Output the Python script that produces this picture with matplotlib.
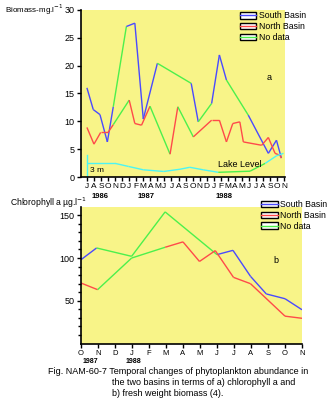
import numpy as np
import matplotlib.pyplot as plt
from matplotlib.patches import Rectangle
from matplotlib.lines import Line2D

plt.rcParams['font.family'] = ['Liberation Sans', 'DejaVu Sans']

# ---- panel a: biomass (months counted from Jul 1986) ----
months_a = ['J', 'A', 'S', 'O', 'N', 'D', 'J', 'F', 'M', 'A', 'M', 'J', 'J', 'A', 'S',
            'O', 'N', 'D', 'J', 'F', 'M', 'A', 'M', 'J', 'J', 'A', 'S', 'O', 'N']
years_a = ['1986', '1987', '1988']
years_a_pos = [1.85, 8.4, 19.5]

south_a_t = [0, 0.9, 1.85, 2.9, 3.74, 5.6, 6.8, 8.0, 10.0, 14.8, 15.8, 17.7, 18.8, 19.8,
             22.9, 25.75, 26.9, 27.6]
south_a_v = [16.0, 12.1, 11.2, 6.3, 12.6, 27.0, 27.6, 10.4, 20.4, 16.8, 9.9, 13.2, 21.9,
             17.4, 11.1, 4.25, 6.6, 3.4]
# 1 = measured segment, 0 = no data (interpolated)
south_a_ok = [1, 1, 1, 1, 0, 1, 1, 1, 0, 1, 0, 1, 1, 0, 1, 1, 1]

north_a_t = [0, 1.0, 1.95, 3.0, 3.74, 6.0, 6.8, 7.75, 8.95, 11.8, 12.9, 15.1, 17.7, 18.8,
             19.8, 20.7, 21.7, 22.2, 24.8, 25.75, 26.7, 27.4, 27.6]
north_a_v = [8.9, 5.9, 8.0, 8.0, 9.4, 13.8, 9.6, 9.3, 12.7, 4.1, 12.6, 7.2, 10.2, 10.2,
             6.3, 9.6, 9.9, 6.3, 5.7, 7.1, 4.25, 3.9, 3.4]
north_a_ok = [1, 1, 1, 1, 0, 1, 1, 1, 0, 1, 0, 1, 1, 1, 1, 1, 1, 1, 1, 1, 1, 1]

lake_t = [0, 4.0, 5.9, 8.0, 10.9, 13.2, 14.6, 16.5, 18.65, 23.15, 25.3, 26.9, 27.9]
lake_v = [2.45, 2.45, 1.9, 1.3, 1.0, 1.4, 1.75, 1.3, 0.85, 1.05, 2.45, 3.8, 4.25]
lake_ok = [1, 1, 1, 1, 1, 1, 1, 1, 0, 0, 1, 1]

# ---- panel b: chlorophyll a (months counted from Oct 1987) ----
months_b = ['O', 'N', 'D', 'J', 'F', 'M', 'A', 'M', 'J', 'J', 'A', 'S', 'O', 'N']
years_b = ['1987', '1988']
years_b_pos = [0.53, 3.06]

south_b_t = [0, 0.92, 2.98, 4.95, 8.0, 8.94, 9.97, 10.9, 12.0, 13.0]
south_b_v = [98, 111.8, 102, 154, 104, 109, 78.6, 58, 52.4, 39.5]
south_b_ok = [1, 0, 0, 0, 1, 1, 1, 1, 1]

north_b_t = [0, 0.98, 2.98, 4.95, 6.0, 6.97, 7.9, 8.97, 9.97, 12.0, 13.0]
north_b_v = [70.8, 63, 100, 112.6, 118.9, 96, 108.7, 77.4, 70, 32, 29.5]
north_b_ok = [1, 0, 0, 1, 1, 1, 1, 1, 1, 1]

BLUE = '#4a4aff'
RED = '#ff4a4a'
GREEN = '#4cf04c'
CYAN = '#4cf4f4'
YELLOW = '#f8f488'


def seg_line(ax, t, v, ok, color):
    for i in range(len(t) - 1):
        c = color if ok[i] else GREEN
        ax.plot(t[i:i + 2], v[i:i + 2], color=c, lw=1.0, solid_capstyle='butt')


def style(ax):
    ax.set_facecolor(YELLOW)
    for s in ['top', 'right']:
        ax.spines[s].set_visible(False)
    ax.spines['left'].set_linewidth(1.2)
    ax.spines['bottom'].set_linewidth(1.2)
    ax.tick_params(length=3, width=1, labelsize=6.5, pad=1.5)


def legend(fig, x, y):
    handles = []
    for c in [BLUE, RED, GREEN]:
        handles.append((Rectangle((0, 0), 1, 1, fc='white', ec='black', lw=1.0),
                        Line2D([], [], color=c, lw=1.0)))
    fig.legend(handles, ['South Basin', 'North Basin', 'No data'], loc='upper left',
               bbox_to_anchor=(x, y), frameon=False, fontsize=6.3, handlelength=1.9,
               handleheight=0.75, handletextpad=0.3, labelspacing=0.2,
               borderpad=0, borderaxespad=0)


fig = plt.figure(figsize=(3.29, 4.07), dpi=100)

# panel a
ax1 = fig.add_axes([0.246, 0.565, 0.620, 0.411])
style(ax1)
seg_line(ax1, south_a_t, south_a_v, south_a_ok, BLUE)
seg_line(ax1, north_a_t, north_a_v, north_a_ok, RED)
seg_line(ax1, lake_t, lake_v, lake_ok, CYAN)
ax1.plot([0, 0], [0, 4.0], color=CYAN, lw=1.0)
ax1.set_xlim(-0.85, 28.1)
ax1.set_ylim(0, 30)
ax1.set_yticks(range(0, 31, 5))
ax1.set_xticks(range(len(months_a)))
ax1.set_xticklabels(months_a, fontsize=6)
for yl, p in zip(years_a, years_a_pos):
    ax1.text(p, -2.8, yl, ha='center', va='top', fontsize=5.5, fontweight='bold')
ax1.text(0.4, 1.1, '3 m', fontsize=6, va='center')
ax1.text(18.6, 2.2, 'Lake Level', fontsize=6.5, va='center')
ax1.text(25.5, 17.8, 'a', fontsize=6.5, va='center')
fig.text(0.015, 0.975, 'Biomass-mg.l$^{-1}$', fontsize=5.8, va='center')
legend(fig, 0.728, 0.972)

# panel b
ax2 = fig.add_axes([0.246, 0.156, 0.672, 0.336])
style(ax2)
seg_line(ax2, south_b_t, south_b_v, south_b_ok, BLUE)
seg_line(ax2, north_b_t, north_b_v, north_b_ok, RED)
ax2.set_xlim(0, 13)
ax2.set_ylim(0, 160)
ax2.set_yticks([50, 100, 150])
ax2.set_yticks(range(10, 160, 10), minor=True)
ax2.tick_params(which='minor', length=2, width=1)
ax2.set_xticks(range(len(months_b)))
ax2.set_xticklabels(months_b, fontsize=5.5)
for yl, p in zip(years_b, years_b_pos):
    ax2.text(p, -17, yl, ha='center', va='top', fontsize=5, fontweight='bold')
ax2.text(11.3, 97, 'b', fontsize=6.5, va='center')
fig.text(0.03, 0.502, 'Chlorophyll a µg.l$^{-1}$', fontsize=6.2, va='center')
legend(fig, 0.793, 0.508)

fig.text(0.146, 0.087, 'Fig. NAM-60-7 Temporal changes of phytoplankton abundance in',
         fontsize=6.5, va='center')
fig.text(0.339, 0.060, 'the two basins in terms of a) chlorophyll a and',
         fontsize=6.5, va='center')
fig.text(0.339, 0.034, 'b) fresh weight biomass (4).', fontsize=6.5, va='center')

fig.savefig('out.png', dpi=100)
